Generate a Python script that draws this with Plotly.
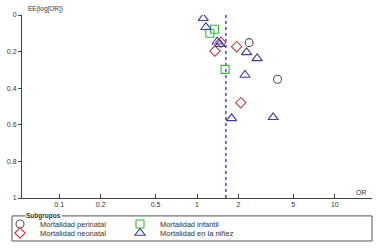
import plotly.graph_objects as go

# ---- data ----
perinatal_or = [2.39, 3.84]
perinatal_se = [0.151, 0.351]

neonatal_or = [1.49, 1.35, 1.94, 2.08]
neonatal_se = [0.149, 0.197, 0.173, 0.479]

infantil_or = [1.34, 1.24, 1.60]
infantil_se = [0.078, 0.100, 0.297]

ninez_or = [1.11, 1.16, 1.40, 1.47, 2.29, 2.73, 2.23, 1.78, 3.57]
ninez_se = [0.018, 0.067, 0.146, 0.160, 0.204, 0.237, 0.328, 0.565, 0.559]

pooled_or = 1.62
se_range = [0, 1]

x_ticks = [0.1, 0.2, 0.5, 1, 2, 5, 10]
x_ticklabels = ["0.1", "0.2", "0.5", "1", "2", "5", "10"]
y_ticks = [0, 0.2, 0.4, 0.6, 0.8, 1]
y_ticklabels = ["0", "0.2", "0.4", "0.6", "0.8", "1"]

FONT = "Liberation Sans, Arial, sans-serif"
AXC = "#444444"

fig = go.Figure()

fig.add_trace(go.Scatter(
    x=[pooled_or, pooled_or], y=se_range, mode="lines",
    line=dict(color="#4a4acc", width=1.5, dash="dot"),
    showlegend=False, hoverinfo="skip"))

def add(name, xs, ys, symbol, color, legend, size=8):
    fig.add_trace(go.Scatter(
        x=xs, y=ys, mode="markers", name=name, legend=legend,
        marker=dict(symbol=symbol, size=size, color=color, line=dict(width=1.1))))

# row 1 of the legend box
add("Mortalidad perinatal", perinatal_or, perinatal_se, "circle-open", "#555555", "legend")
add("Mortalidad infantil", infantil_or, infantil_se, "square-open", "#33bb33", "legend")
# row 2 of the legend box
add("Mortalidad neonatal", neonatal_or, neonatal_se, "diamond-open", "#c04040", "legend2")
add("Mortalidad en la niñez", ninez_or, ninez_se, "triangle-up-open", "#3a3aaa", "legend2", size=9)

leg_common = dict(xref="container", yref="container", xanchor="left", yanchor="top",
                  orientation="h", entrywidth=75, entrywidthmode="pixels",
                  bgcolor="rgba(0,0,0,0)", font=dict(size=7.5, color="#333333"))

fig.update_layout(
    width=382, height=250,
    margin=dict(l=22, r=10, t=15, b=52, autoexpand=False),
    paper_bgcolor="white", plot_bgcolor="white",
    font=dict(family=FONT, size=7, color="#333333"),
    xaxis=dict(type="log", range=[-1.27, 1.27], tickvals=x_ticks, ticktext=x_ticklabels,
               showgrid=False, zeroline=False, showline=True, linecolor=AXC, linewidth=1,
               ticks="inside", ticklen=4, tickcolor=AXC, tickfont=dict(size=7), automargin=False),
    yaxis=dict(range=[1, 0], tickvals=y_ticks, ticktext=y_ticklabels,
               showgrid=False, zeroline=False, showline=True, linecolor=AXC, linewidth=1,
               ticks="outside", ticklen=3, tickcolor=AXC, tickfont=dict(size=7), automargin=False),
    legend=dict(x=-0.01, y=0.162, **leg_common),
    legend2=dict(x=-0.01, y=0.126, **leg_common),
    shapes=[dict(type="rect", xref="paper", yref="paper", x0=-0.0286, x1=1.0, y0=-0.098, y1=-0.235,
                 line=dict(color="#555555", width=1), layer="below")],
    annotations=[
        dict(text="EE(log[OR])", xref="paper", yref="paper", x=0.012, y=1.0, xanchor="left",
             yanchor="bottom", showarrow=False, font=dict(size=6.5)),
        dict(text="OR", xref="paper", yref="paper", x=0.99, y=0.0, xanchor="right",
             yanchor="bottom", showarrow=False, font=dict(size=7)),
        dict(text="<b>Subgrupos</b>", xref="paper", yref="paper", x=0.009, y=-0.098, xanchor="left",
             yanchor="middle", showarrow=False, bgcolor="white", font=dict(size=6.5), borderpad=0),
    ],
)

fig.write_html("out.html", config={"displayModeBar": False},
               post_script="document.body.style.margin='0';")
